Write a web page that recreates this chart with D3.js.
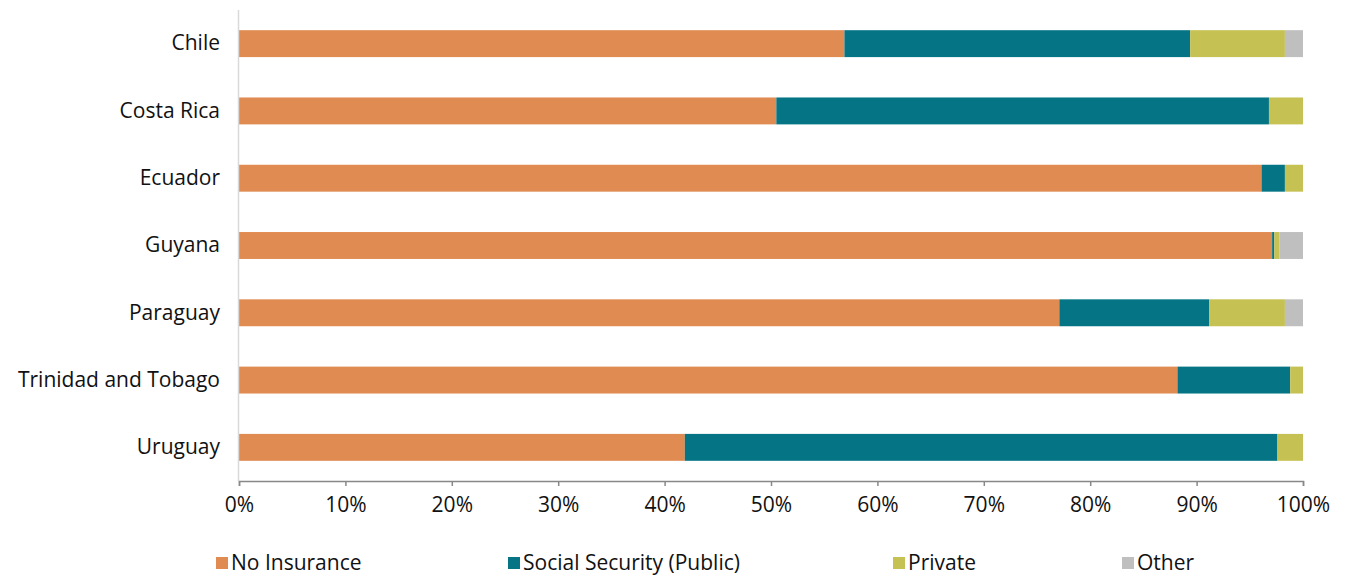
<!DOCTYPE html>
<html><head><meta charset="utf-8">
<script src="https://cdn.jsdelivr.net/npm/d3@7"></script>
<style>body{margin:0;background:#fff;} text{font-family:"Open Sans","Noto Sans",sans-serif;fill:#111;}</style>
</head><body>
<svg id="c" width="1348" height="577"></svg>
<script>
const categories = ["Chile","Costa Rica","Ecuador","Guyana","Paraguay","Trinidad and Tobago","Uruguay"];
const seriesNames = ["No Insurance","Social Security (Public)","Private","Other"];
const noInsurance = [56.9, 50.5, 96.1, 97.1, 77.1, 88.2, 41.9];
const socialSecurity = [32.5, 46.3, 2.2, 0.2, 14.1, 10.6, 55.7];
const privateIns = [8.9, 3.2, 1.7, 0.5, 7.1, 1.2, 2.4];
const other = [1.7, 0.0, 0.0, 2.2, 1.7, 0.0, 0.0];
const colors = ["#E08B51","#057585","#C5C152","#BFBFBF"];
const tickValues = [0,10,20,30,40,50,60,70,80,90,100];

const svg = d3.select("#c");
const m = {left:239, right:45, top:10, bottom:96};
const W = 1348, H = 577;
const x = d3.scaleLinear().domain([0,100]).range([m.left, W - m.right]);
const y = d3.scaleBand().domain(categories).range([m.top, H - m.bottom]).paddingInner(0.6).paddingOuter(0.3);

const rows = categories.map((c,i)=>({cat:c, "No Insurance":noInsurance[i], "Social Security (Public)":socialSecurity[i], "Private":privateIns[i], "Other":other[i]}));
const stacked = d3.stack().keys(seriesNames)(rows);

svg.append("g").selectAll("g").data(stacked).join("g")
  .attr("fill",(d,i)=>colors[i])
  .selectAll("rect").data(d=>d).join("rect")
  .attr("x",d=>x(d[0])).attr("width",d=>Math.max(0,x(d[1])-x(d[0])))
  .attr("y",d=>y(d.data.cat)).attr("height",y.bandwidth());

// y axis line
svg.append("line").attr("x1",m.left-0.5).attr("x2",m.left-0.5).attr("y1",m.top).attr("y2",H-m.bottom)
  .attr("stroke","#d9d9d9").attr("stroke-width",1.5);

// x axis
const xa = svg.append("g").attr("transform",`translate(0,${H-m.bottom})`)
  .call(d3.axisBottom(x).tickValues(tickValues).tickFormat(d=>d+"%").tickSize(5).tickPadding(11));
xa.select(".domain").attr("stroke","#888").attr("stroke-width",1.5);
xa.selectAll(".tick line").attr("stroke","#888").attr("stroke-width",1.5);
xa.selectAll("text").style("font-size","21px").attr("fill","#111");

// y labels
const ya = svg.append("g").attr("transform",`translate(${m.left},0)`)
  .call(d3.axisLeft(y).tickSize(0).tickPadding(19));
ya.select(".domain").remove();
ya.selectAll("text").style("font-size","21px").attr("fill","#111");

// legend
const legX = [216, 508, 893, 1122];
const lg = svg.append("g").selectAll("g").data(seriesNames).join("g")
  .attr("transform",(d,i)=>`translate(${legX[i]},563)`);
lg.append("rect").attr("x",0).attr("y",-6).attr("width",12).attr("height",12).attr("fill",(d,i)=>colors[i]);
lg.append("text").attr("x",15).attr("y",0).attr("dy","0.33em").style("font-size","21px").text(d=>d);
</script>
</body></html>
